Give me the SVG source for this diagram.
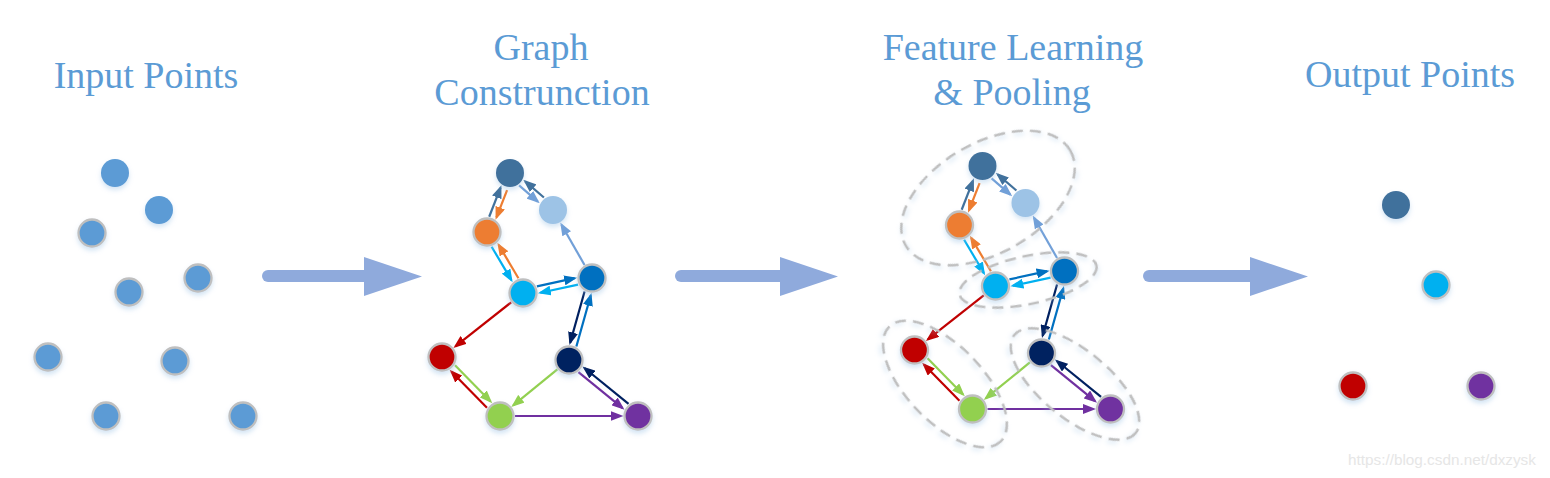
<svg xmlns="http://www.w3.org/2000/svg" width="1550" height="478" viewBox="0 0 1550 478">
<style>
.title{font-family:"Liberation Serif","Times New Roman",serif;font-size:38px;fill:#5B9BD5;text-anchor:middle}
.wm{font-family:"Liberation Sans",Arial,sans-serif;font-size:15.3px;fill:#E6E6E6}
.n{filter:url(#glow)}
.b{stroke:#BFBFBF;stroke-width:2.3}
.e{fill:none;stroke-width:2.2}
.pool{fill:none;stroke:#BFBFBF;stroke-width:2.5;stroke-dasharray:11 7;filter:url(#glow)}
.big{fill:#8FAADC}
</style>
<defs>
<filter id="glow" x="-50%" y="-50%" width="200%" height="200%">
<feDropShadow dx="0" dy="3" stdDeviation="2.5" flood-color="#9DC3E6" flood-opacity="0.45"/>
</filter>
<marker id="mT" markerUnits="userSpaceOnUse" markerWidth="13" markerHeight="10" viewBox="0 0 13 10" refX="10.5" refY="5" orient="auto"><path d="M0,0L13,5L0,10z" fill="#41719C"/></marker>
<marker id="mL" markerUnits="userSpaceOnUse" markerWidth="13" markerHeight="10" viewBox="0 0 13 10" refX="10.5" refY="5" orient="auto"><path d="M0,0L13,5L0,10z" fill="#72A0D8"/></marker>
<marker id="mO" markerUnits="userSpaceOnUse" markerWidth="13" markerHeight="10" viewBox="0 0 13 10" refX="10.5" refY="5" orient="auto"><path d="M0,0L13,5L0,10z" fill="#ED7D31"/></marker>
<marker id="mC" markerUnits="userSpaceOnUse" markerWidth="13" markerHeight="10" viewBox="0 0 13 10" refX="10.5" refY="5" orient="auto"><path d="M0,0L13,5L0,10z" fill="#00B0F0"/></marker>
<marker id="mB" markerUnits="userSpaceOnUse" markerWidth="13" markerHeight="10" viewBox="0 0 13 10" refX="10.5" refY="5" orient="auto"><path d="M0,0L13,5L0,10z" fill="#0070C0"/></marker>
<marker id="mR" markerUnits="userSpaceOnUse" markerWidth="13" markerHeight="10" viewBox="0 0 13 10" refX="10.5" refY="5" orient="auto"><path d="M0,0L13,5L0,10z" fill="#C00000"/></marker>
<marker id="mG" markerUnits="userSpaceOnUse" markerWidth="13" markerHeight="10" viewBox="0 0 13 10" refX="10.5" refY="5" orient="auto"><path d="M0,0L13,5L0,10z" fill="#92D050"/></marker>
<marker id="mN" markerUnits="userSpaceOnUse" markerWidth="13" markerHeight="10" viewBox="0 0 13 10" refX="10.5" refY="5" orient="auto"><path d="M0,0L13,5L0,10z" fill="#002060"/></marker>
<marker id="mP" markerUnits="userSpaceOnUse" markerWidth="13" markerHeight="10" viewBox="0 0 13 10" refX="10.5" refY="5" orient="auto"><path d="M0,0L13,5L0,10z" fill="#7030A0"/></marker>
</defs>
<rect width="1550" height="478" fill="#FFFFFF"/>

<g id="titles">
<text class="title" x="146" y="88">Input Points</text>
<text class="title" x="541" y="60">Graph</text>
<text class="title" x="542" y="105">Construnction</text>
<text class="title" x="1013" y="60">Feature Learning</text>
<text class="title" x="1012" y="105">&amp; Pooling</text>
<text class="title" x="1410" y="87">Output Points</text>
</g>

<g id="stage-arrows">
<g id="arrow1"><line x1="268" y1="276" x2="368" y2="276" stroke="#8FAADC" stroke-width="12" stroke-linecap="round"/><path class="big" d="M364,257L422,276.5L364,296z"/></g>
<g id="arrow2"><line x1="681" y1="276" x2="784" y2="276" stroke="#8FAADC" stroke-width="12" stroke-linecap="round"/><path class="big" d="M780,257L838,276.5L780,296z"/></g>
<g id="arrow3"><line x1="1149" y1="276" x2="1254" y2="276" stroke="#8FAADC" stroke-width="12" stroke-linecap="round"/><path class="big" d="M1250,257L1308,276.5L1250,296z"/></g>
</g>

<g id="input-points" fill="#5B9BD5">
<g id="in1"><circle class="n" cx="115" cy="173" r="14"/></g>
<g id="in2"><circle class="n" cx="159" cy="210" r="14"/></g>
<g id="in3"><circle class="n b" cx="92" cy="233" r="13.5"/></g>
<g id="in4"><circle class="n b" cx="198" cy="278" r="13.5"/></g>
<g id="in5"><circle class="n b" cx="129" cy="292" r="13.5"/></g>
<g id="in6"><circle class="n b" cx="48" cy="357" r="13.5"/></g>
<g id="in7"><circle class="n b" cx="175" cy="361" r="13.5"/></g>
<g id="in8"><circle class="n b" cx="106" cy="416" r="13.5"/></g>
<g id="in9"><circle class="n b" cx="243" cy="416" r="13.5"/></g>
</g>

<g id="graph-construction">
<g id="g2-connectors" class="e">
<g transform="translate(487,232) rotate(-68.7)"><line x1="15" y1="-3.5" x2="46.3" y2="-3.5" stroke="#41719C" marker-end="url(#mT)"/><line x1="46.3" y1="3.5" x2="17" y2="3.5" stroke="#ED7D31" marker-end="url(#mO)"/></g>
<g transform="translate(510,173) rotate(40.7)"><line x1="15" y1="3.5" x2="39.7" y2="3.5" stroke="#72A0D8" marker-end="url(#mL)"/><line x1="41.7" y1="-3.5" x2="17" y2="-3.5" stroke="#41719C" marker-end="url(#mT)"/></g>
<g transform="translate(487,232) rotate(59.4)"><line x1="15" y1="3.5" x2="53.8" y2="3.5" stroke="#00B0F0" marker-end="url(#mC)"/><line x1="55.8" y1="-3.5" x2="17" y2="-3.5" stroke="#ED7D31" marker-end="url(#mO)"/></g>
<g transform="translate(523,293) rotate(-12.3)"><line x1="15" y1="-3.5" x2="53.6" y2="-3.5" stroke="#0070C0" marker-end="url(#mB)"/><line x1="55.6" y1="3.5" x2="17" y2="3.5" stroke="#00B0F0" marker-end="url(#mC)"/></g>
<g transform="translate(592,278) rotate(-119.8)"><line x1="15" y1="0" x2="61.4" y2="0" stroke="#72A0D8" marker-end="url(#mL)"/></g>
<g transform="translate(523,293) rotate(141.7)"><line x1="15" y1="0" x2="86.2" y2="0" stroke="#C00000" marker-end="url(#mR)"/></g>
<g transform="translate(442,357) rotate(45.5)"><line x1="15" y1="-3.5" x2="65.7" y2="-3.5" stroke="#92D050" marker-end="url(#mG)"/><line x1="67.7" y1="3.5" x2="17" y2="3.5" stroke="#C00000" marker-end="url(#mR)"/></g>
<g transform="translate(569,360) rotate(140.9)"><line x1="15" y1="0" x2="71.9" y2="0" stroke="#92D050" marker-end="url(#mG)"/></g>
<g transform="translate(592,278) rotate(105.7)"><line x1="15" y1="3.5" x2="68.2" y2="3.5" stroke="#002060" marker-end="url(#mN)"/><line x1="70.2" y1="-3.5" x2="17" y2="-3.5" stroke="#0070C0" marker-end="url(#mB)"/></g>
<g transform="translate(569,360) rotate(39.1)"><line x1="15" y1="3.5" x2="71.9" y2="3.5" stroke="#7030A0" marker-end="url(#mP)"/><line x1="73.9" y1="-3.5" x2="17" y2="-3.5" stroke="#002060" marker-end="url(#mN)"/></g>
<g transform="translate(500,416)"><line x1="15" y1="0" x2="121" y2="0" stroke="#7030A0" marker-end="url(#mP)"/></g>
</g>
<g id="g2-T"><circle class="n" cx="510" cy="173" r="14" fill="#41719C"/></g>
<g id="g2-L"><circle class="n" cx="553" cy="210" r="14" fill="#9DC3E6"/></g>
<g id="g2-O"><circle class="n b" cx="487" cy="232" r="13.5" fill="#ED7D31"/></g>
<g id="g2-B"><circle class="n b" cx="592" cy="278" r="13.5" fill="#0070C0"/></g>
<g id="g2-C"><circle class="n b" cx="523" cy="293" r="13.5" fill="#00B0F0"/></g>
<g id="g2-R"><circle class="n b" cx="442" cy="357" r="13.5" fill="#C00000"/></g>
<g id="g2-N"><circle class="n b" cx="569" cy="360" r="13.5" fill="#002060"/></g>
<g id="g2-G"><circle class="n b" cx="500" cy="416" r="13.5" fill="#92D050"/></g>
<g id="g2-P"><circle class="n b" cx="638" cy="416" r="13.5" fill="#7030A0"/></g>
</g>

<g id="feature-learning">
<g transform="translate(472.5,-7)">
<g id="g3-connectors" class="e">
<g transform="translate(487,232) rotate(-68.7)"><line x1="15" y1="-3.5" x2="46.3" y2="-3.5" stroke="#41719C" marker-end="url(#mT)"/><line x1="46.3" y1="3.5" x2="17" y2="3.5" stroke="#ED7D31" marker-end="url(#mO)"/></g>
<g transform="translate(510,173) rotate(40.7)"><line x1="15" y1="3.5" x2="39.7" y2="3.5" stroke="#72A0D8" marker-end="url(#mL)"/><line x1="41.7" y1="-3.5" x2="17" y2="-3.5" stroke="#41719C" marker-end="url(#mT)"/></g>
<g transform="translate(487,232) rotate(59.4)"><line x1="15" y1="3.5" x2="53.8" y2="3.5" stroke="#00B0F0" marker-end="url(#mC)"/><line x1="55.8" y1="-3.5" x2="17" y2="-3.5" stroke="#ED7D31" marker-end="url(#mO)"/></g>
<g transform="translate(523,293) rotate(-12.3)"><line x1="15" y1="-3.5" x2="53.6" y2="-3.5" stroke="#0070C0" marker-end="url(#mB)"/><line x1="55.6" y1="3.5" x2="17" y2="3.5" stroke="#00B0F0" marker-end="url(#mC)"/></g>
<g transform="translate(592,278) rotate(-119.8)"><line x1="15" y1="0" x2="61.4" y2="0" stroke="#72A0D8" marker-end="url(#mL)"/></g>
<g transform="translate(523,293) rotate(141.7)"><line x1="15" y1="0" x2="86.2" y2="0" stroke="#C00000" marker-end="url(#mR)"/></g>
<g transform="translate(442,357) rotate(45.5)"><line x1="15" y1="-3.5" x2="65.7" y2="-3.5" stroke="#92D050" marker-end="url(#mG)"/><line x1="67.7" y1="3.5" x2="17" y2="3.5" stroke="#C00000" marker-end="url(#mR)"/></g>
<g transform="translate(569,360) rotate(140.9)"><line x1="15" y1="0" x2="71.9" y2="0" stroke="#92D050" marker-end="url(#mG)"/></g>
<g transform="translate(592,278) rotate(105.7)"><line x1="15" y1="3.5" x2="68.2" y2="3.5" stroke="#002060" marker-end="url(#mN)"/><line x1="70.2" y1="-3.5" x2="17" y2="-3.5" stroke="#0070C0" marker-end="url(#mB)"/></g>
<g transform="translate(569,360) rotate(39.1)"><line x1="15" y1="3.5" x2="71.9" y2="3.5" stroke="#7030A0" marker-end="url(#mP)"/><line x1="73.9" y1="-3.5" x2="17" y2="-3.5" stroke="#002060" marker-end="url(#mN)"/></g>
<g transform="translate(500,416)"><line x1="15" y1="0" x2="121" y2="0" stroke="#7030A0" marker-end="url(#mP)"/></g>
</g>
</g>
<g id="pools">
<ellipse class="pool" cx="988" cy="198" rx="95" ry="55" transform="rotate(-30 988 198)"/>
<ellipse class="pool" cx="1028" cy="280" rx="70" ry="24" transform="rotate(-12 1028 280)"/>
<ellipse class="pool" cx="945" cy="384" rx="80" ry="38" transform="rotate(46 945 384)"/>
<ellipse class="pool" cx="1075" cy="384" rx="78" ry="34" transform="rotate(39 1075 384)"/>
</g>
<g transform="translate(472.5,-7)">
<g id="g3-T"><circle class="n" cx="510" cy="173" r="14" fill="#41719C"/></g>
<g id="g3-L"><circle class="n" cx="553" cy="210" r="14" fill="#9DC3E6"/></g>
<g id="g3-O"><circle class="n b" cx="487" cy="232" r="13.5" fill="#ED7D31"/></g>
<g id="g3-B"><circle class="n b" cx="592" cy="278" r="13.5" fill="#0070C0"/></g>
<g id="g3-C"><circle class="n b" cx="523" cy="293" r="13.5" fill="#00B0F0"/></g>
<g id="g3-R"><circle class="n b" cx="442" cy="357" r="13.5" fill="#C00000"/></g>
<g id="g3-N"><circle class="n b" cx="569" cy="360" r="13.5" fill="#002060"/></g>
<g id="g3-G"><circle class="n b" cx="500" cy="416" r="13.5" fill="#92D050"/></g>
<g id="g3-P"><circle class="n b" cx="638" cy="416" r="13.5" fill="#7030A0"/></g>
</g>
</g>

<g id="output-points">
<g id="out-T"><circle class="n" cx="1396" cy="205" r="14" fill="#41719C"/></g>
<g id="out-C"><circle class="n b" cx="1436" cy="285" r="13.5" fill="#00B0F0"/></g>
<g id="out-R"><circle class="n b" cx="1353" cy="386" r="13.5" fill="#C00000"/></g>
<g id="out-P"><circle class="n b" cx="1481" cy="386" r="13.5" fill="#7030A0"/></g>
</g>

<text class="wm" x="1348" y="465">https://blog.csdn.net/dxzysk</text>
</svg>
